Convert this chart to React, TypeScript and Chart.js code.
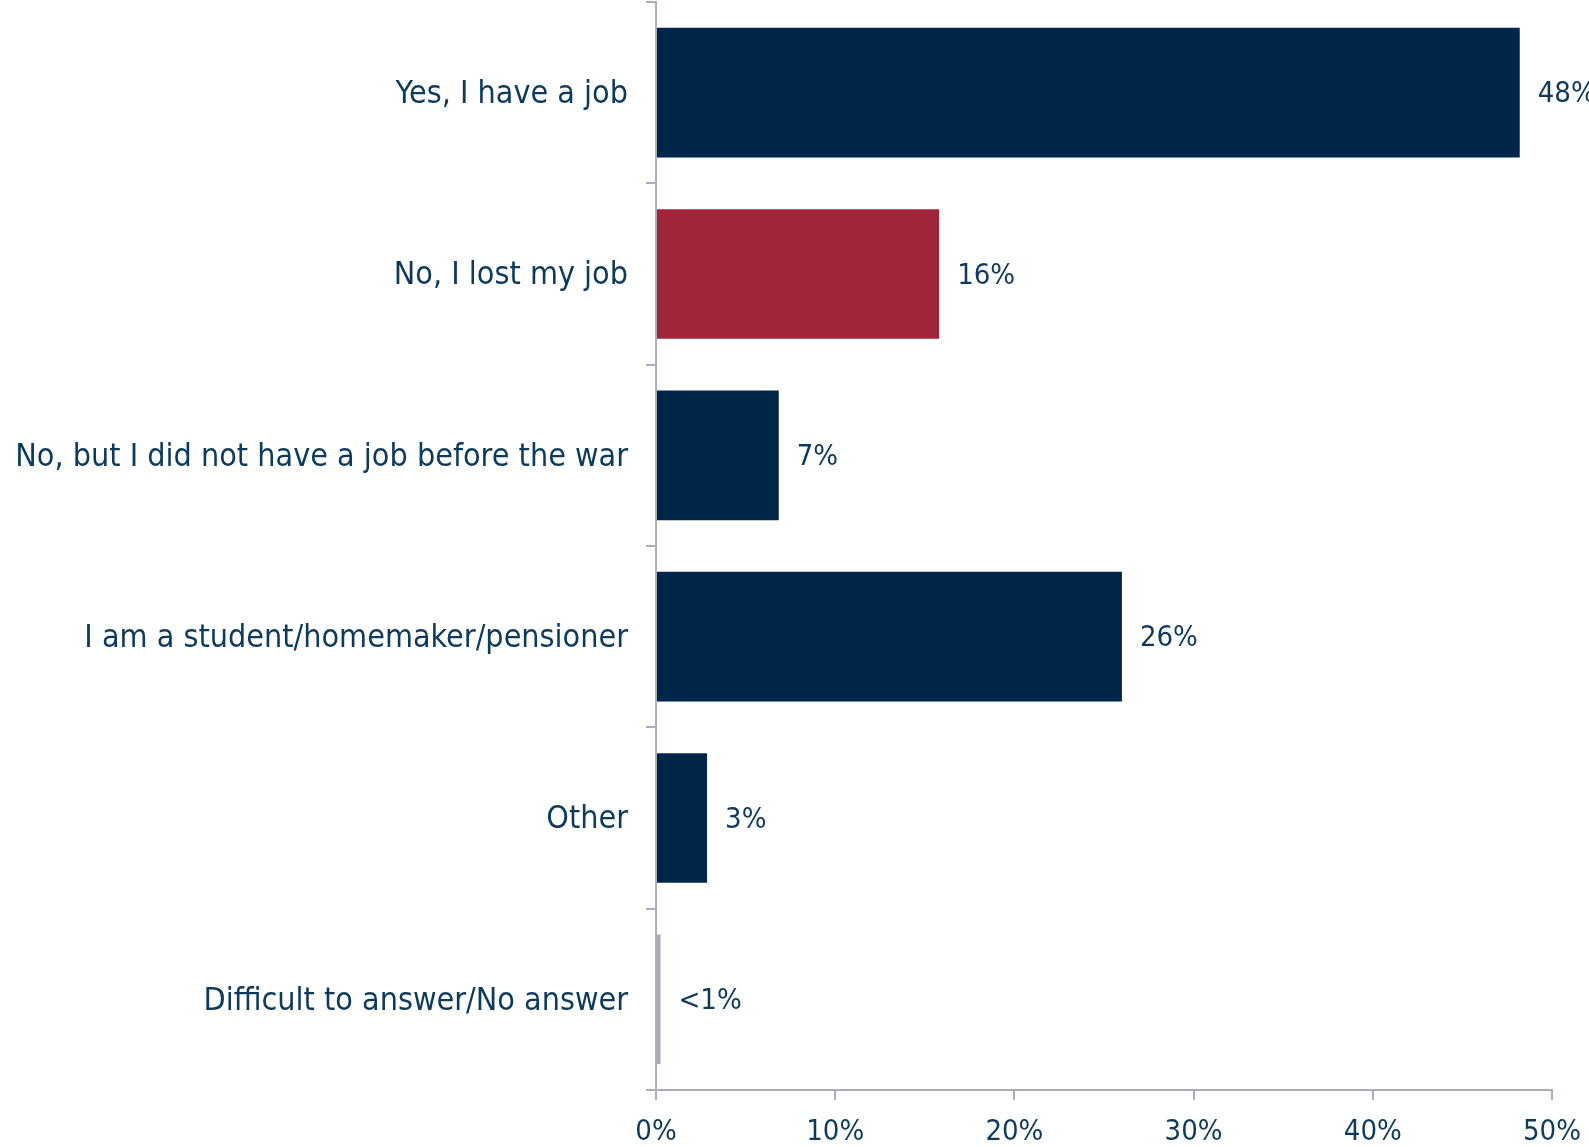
import React, { useEffect, useRef } from "react";
import { Chart, registerables } from "chart.js";

Chart.register(...registerables);

const categories = [
  "Yes, I have a job",
  "No, I lost my job",
  "No, but I did not have a job before the war",
  "I am a student/homemaker/pensioner",
  "Other",
  "Difficult to answer/No answer",
];
const values = [48.2, 15.8, 6.85, 26.0, 2.85, 0.25];
const valueLabels = ["48%", "16%", "7%", "26%", "3%", "<1%"];
const barColors = ["#00264A", "#A0253A", "#00264A", "#00264A", "#00264A", "#A9AAB3"];
const xTicks = [0, 10, 20, 30, 40, 50];

const TEXT = "#0E3A5C";
const AXIS = "#A9ADB8";
const LABEL_FONT = "'DejaVu Sans Condensed', 'DejaVu Sans', sans-serif";
const NUM_FONT = "'DejaVu Sans Condensed', 'DejaVu Sans', sans-serif";

export default function App() {
  const ref = useRef<HTMLCanvasElement | null>(null);
  useEffect(() => {
    document.body.style.margin = "0";
    const labelPlugin = {
      id: "valueLabels",
      afterDatasetsDraw(chart: any) {
        const ctx = chart.ctx;
        const meta = chart.getDatasetMeta(0);
        ctx.save();
        ctx.fillStyle = TEXT;
        ctx.font = `29px ${NUM_FONT}`;
        ctx.textAlign = "left";
        ctx.textBaseline = "middle";
        meta.data.forEach((el: any, i: number) => {
          ctx.fillText(valueLabels[i], el.x + 18, el.y + 2);
        });
        ctx.restore();
      },
    };
    const chart = new Chart(ref.current!, {
      type: "bar",
      data: {
        labels: categories,
        datasets: [
          {
            data: values,
            backgroundColor: barColors,
            categoryPercentage: 1,
            barPercentage: 0.715,
          },
        ],
      },
      options: {
        indexAxis: "y",
        animation: false,
        responsive: false,
        maintainAspectRatio: false,
        layout: { padding: { top: 2, right: 37, left: 0, bottom: 0 } },
        plugins: { legend: { display: false }, tooltip: { enabled: false } },
        scales: {
          x: {
            min: 0,
            max: 50,
            afterBuildTicks(scale: any) {
              scale.ticks = xTicks.map((v) => ({ value: v }));
            },
            afterFit(scale: any) {
              scale.height = 57;
              scale.paddingLeft = 0;
              scale.paddingRight = 0;
            },
            ticks: {
              color: TEXT,
              font: { family: NUM_FONT, size: 29 },
              padding: 15,
              callback: (v: any) => `${v}%`,
            },
            grid: {
              drawOnChartArea: false,
              tickLength: 10,
              color: AXIS,
              lineWidth: 2,
            },
            border: { color: AXIS, width: 2 },
          },
          y: {
            afterFit(scale: any) {
              scale.width = 656;
              scale.paddingTop = 0;
              scale.paddingBottom = 0;
            },
            ticks: {
              color: TEXT,
              font: { family: LABEL_FONT, size: 32 },
              padding: 18,
              labelOffset: 2,
            },
            grid: {
              offset: true,
              drawOnChartArea: false,
              tickLength: 10,
              color: AXIS,
              lineWidth: 2,
            },
            border: { color: AXIS, width: 2 },
          },
        },
      },
      plugins: [labelPlugin],
    });
    return () => chart.destroy();
  }, []);
  return (
    <div style={{ width: 1589, height: 1147, background: "#fff" }}>
      <canvas ref={ref} width={1589} height={1147} style={{ display: "block" }} />
    </div>
  );
}
